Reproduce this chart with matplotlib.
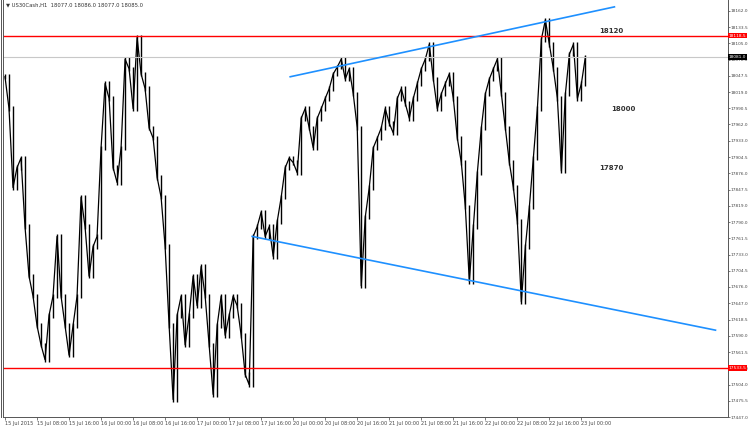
import numpy as np
import matplotlib.pyplot as plt
import matplotlib.transforms as mtransforms

# H1 closes (one value per bar)
closes = [18046, 17990, 17851, 17886, 17903, 17782, 17695, 17660, 17608, 17574,
          17548, 17626, 17660, 17765, 17660, 17608, 17556, 17608, 17660, 17834,
          17782, 17695, 17747, 17765, 17921, 18034, 18008, 17886, 17860, 17921,
          18077, 18060, 17990, 18115, 18051, 18025, 17956, 17938, 17869, 17834,
          17747, 17608, 17478, 17626, 17660, 17574, 17626, 17695, 17643, 17712,
          17660, 17574, 17487, 17608, 17660, 17591, 17626, 17660, 17643, 17591,
          17522, 17504, 17765, 17782, 17808, 17765, 17782, 17730, 17791, 17834,
          17886, 17903, 17895, 17877, 17973, 17990, 17956, 17921, 17973, 17990,
          18008, 18025, 18051, 18063, 18077, 18042, 18060, 18016, 17956, 17678,
          17799, 17851, 17921, 17938, 17956, 17990, 17964, 17947, 18008, 18025,
          17999, 17973, 18008, 18034, 18060, 18077, 18103, 18042, 17990, 18016,
          18034, 18051, 18008, 17938, 17895, 17817, 17686, 17782, 17877, 17956,
          18016, 18042, 18060, 18077, 18016, 17956, 17895, 17851, 17791, 17650,
          17747, 17817, 17903, 17990, 18112, 18146, 18103, 18060, 18008, 17880,
          18016, 18086, 18103, 18008, 18034, 18081]

red_levels = [18118.5, 17533.5]
last_price = 18081.0

y_ticks = [18162.0, 18133.5, 18105.0, 18076.0, 18047.5, 18019.0, 17990.5, 17962.0,
           17933.0, 17904.5, 17876.0, 17847.5, 17819.0, 17790.0, 17761.5, 17733.0,
           17704.5, 17676.0, 17647.0, 17618.5, 17590.0, 17561.5, 17533.0, 17504.0,
           17475.5, 17447.0]

x_labels = ['15 Jul 2015', '15 Jul 08:00', '15 Jul 16:00', '16 Jul 00:00', '16 Jul 08:00',
            '16 Jul 16:00', '17 Jul 00:00', '17 Jul 08:00', '17 Jul 16:00', '20 Jul 00:00',
            '20 Jul 08:00', '20 Jul 16:00', '21 Jul 00:00', '21 Jul 08:00', '21 Jul 16:00',
            '22 Jul 00:00', '22 Jul 08:00', '22 Jul 16:00', '23 Jul 00:00']

# trend lines: (bar, price) endpoints
upper_trend = [(71.25, 18046), (152.25, 18169)]
lower_trend = [(61.75, 17765), (177.5, 17600)]

notes = [(148.5, 18126, '18120'), (151.5, 17990, '18000'), (148.5, 17886, '17870')]

closes = np.array(closes, dtype=float)
opens = np.r_[closes[0], closes[:-1]]
wick = 4
highs = np.maximum(opens, closes) + wick
lows = np.minimum(opens, closes) - wick
idx = np.arange(len(closes))

fig = plt.figure(figsize=(7.5, 4.3), dpi=100)
ax = fig.add_axes([0.004, 0.030, 0.966, 0.970])

ax.vlines(idx, lows, highs, color='black', lw=1.0)
ax.plot(idx, closes, color='black', lw=0.9)

for lv in red_levels:
    ax.axhline(lv, color='#ff0000', lw=1.0)
ax.axhline(last_price, color='#c8c8c8', lw=0.8)

for line in (upper_trend, lower_trend):
    xs, ys = zip(*line)
    ax.plot(xs, ys, color='#1e90ff', lw=1.2)

for x, y, t in notes:
    ax.text(x, y, t, fontsize=5, color='#333333', fontweight='bold', va='center')

ax.set_xlim(-0.5, 180.5)
ax.set_ylim(17457.4, 18181.1)

ax.yaxis.tick_right()
ax.set_yticks(y_ticks)
ax.set_yticklabels([f'{v:.1f}' for v in y_ticks])
ax.tick_params(axis='y', labelsize=3.1, length=1.5, width=0.5, pad=0.8, colors='#444444')
ax.set_xticks(np.arange(len(x_labels)) * 8)
ax.set_xticklabels(x_labels, ha='left')
ax.tick_params(axis='x', labelsize=3.6, length=2, width=0.5, pad=1, colors='#444444')

ax.spines['top'].set_visible(False)
for s in ['left', 'right', 'bottom']:
    ax.spines[s].set_linewidth(0.7)
    ax.spines[s].set_color('#555555')
fig.add_artist(plt.Line2D([0.0007, 0.0007], [0.03, 1.0], color='#555555', lw=0.7))

trans = mtransforms.blended_transform_factory(ax.transAxes, ax.transData)
for lv in red_levels:
    ax.text(1.002, lv, f'{lv:.1f}', transform=trans, fontsize=3.1, color='white', va='center',
            bbox=dict(boxstyle='square,pad=0.15', fc='#ff0000', ec='none'))
ax.text(1.002, last_price, f'{last_price:.1f}', transform=trans, fontsize=3.1, color='white',
        va='center', bbox=dict(boxstyle='square,pad=0.15', fc='black', ec='none'))

ax.text(0.004, 0.995, '\u25bc US30Cash,H1  18077.0 18086.0 18077.0 18085.0',
        transform=ax.transAxes, fontsize=3.8, color='#333333', va='top')

fig.savefig('out.png', dpi=100)
